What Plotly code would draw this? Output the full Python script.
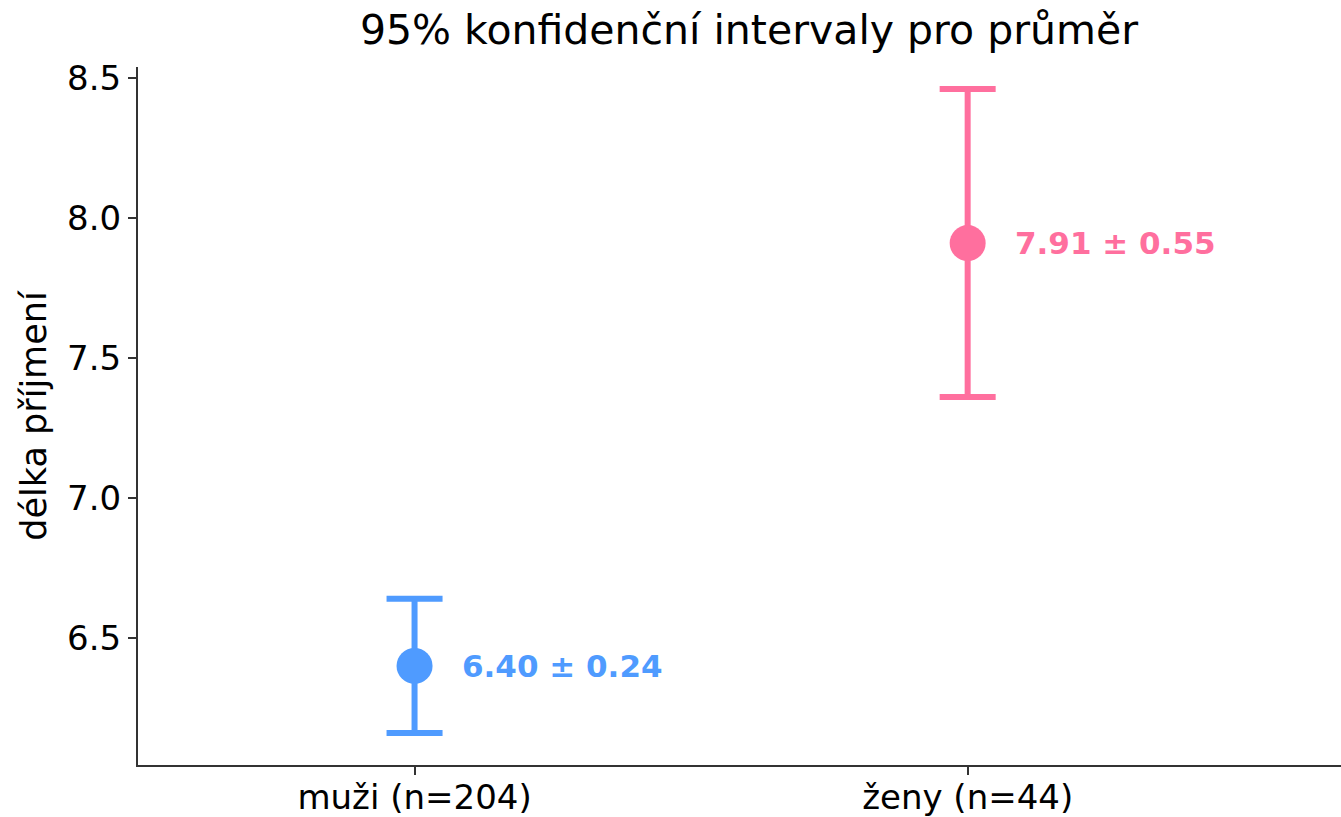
import plotly.graph_objects as go

categories = ["muži (n=204)", "ženy (n=44)"]
means = [6.40, 7.91]
ci_half = [0.24, 0.55]
colors = ["#4f9bff", "#ff6f9e"]
y_ticks = [6.5, 7.0, 7.5, 8.0, 8.5]

FONT = "DejaVu Sans"
fig = go.Figure()
xs = list(range(len(categories)))
for i, (m, h, c) in enumerate(zip(means, ci_half, colors)):
    fig.add_trace(go.Scatter(
        x=[xs[i]], y=[m], mode="markers",
        marker=dict(size=36, color=c, line=dict(width=0)),
        error_y=dict(type="data", array=[h], visible=True, color=c, thickness=6, width=28),
        showlegend=False, hoverinfo="skip",
    ))
    fig.add_annotation(x=xs[i], y=m, xref="x", yref="y",
                       text=f"<b>{m:.2f} ± {h:.2f}</b>", showarrow=False,
                       xanchor="left", yanchor="middle", xshift=45,
                       font=dict(family=FONT, size=31, color=c))

fig.update_layout(
    width=1341, height=817,
    margin=dict(l=138, r=0, t=67, b=52),
    plot_bgcolor="white", paper_bgcolor="white",
    font=dict(family=FONT, color="black"),
    title=dict(text="95% konfidenční intervaly pro průměr", x=749 / 1341,
               xanchor="center", y=1 - 30 / 817, yanchor="middle",
               font=dict(family=FONT, size=41, color="black")),
)
fig.update_xaxes(range=[-0.5, 1.675], tickvals=xs, ticktext=categories, automargin=False,
                 ticklabelstandoff=-7,
                 showgrid=False, zeroline=False, showline=True, linecolor="#333333", linewidth=2,
                 ticks="outside", ticklen=8, tickwidth=2, tickcolor="#333333",
                 tickfont=dict(family=FONT, size=34, color="black"))
fig.update_yaxes(range=[6.046, 8.539], tickvals=y_ticks, ticktext=[f"{v:.1f}" for v in y_ticks],
                 automargin=True,
                 showgrid=False, zeroline=False, showline=True, linecolor="#333333", linewidth=2,
                 ticks="outside", ticklen=8, tickwidth=2, tickcolor="#333333",
                 tickfont=dict(family=FONT, size=34, color="black"),
                 title=dict(text="délka příjmení", font=dict(family=FONT, size=35, color="black"), standoff=10))

fig.write_html("out.html")
